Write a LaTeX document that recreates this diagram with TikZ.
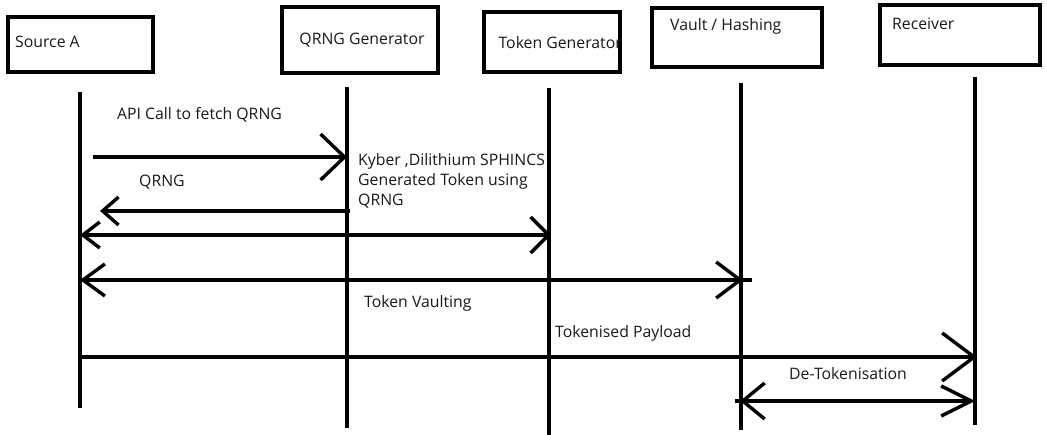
\documentclass[tikz,border=0pt]{standalone}
\usepackage{fontspec}
\setmainfont{Open Sans}
\usetikzlibrary{arrows.meta}
\tikzset{
  actor/.style={draw=black, line width=4pt, fill=white, inner sep=0pt},
  lbl/.style={font=\fontsize{15.8}{20}\selectfont, inner sep=0pt, text=black!90},
  life/.style={draw=black, line width=3.4pt},
  msg/.style={draw=black, line width=3.4pt}
}
\newcommand{\barbtip}[2]{Straight Barb[length=#1pt, width=#2pt, line width=3.4pt]}
\begin{document}
\begin{tikzpicture}[x=1pt, y=-1pt]
\useasboundingbox[fill=white] (0,0) rectangle (1047,435);

% participant boxes
\node[actor, minimum width=145pt, minimum height=55pt] (srcA) at (80.5,44.5) {};
\node[actor, minimum width=156pt, minimum height=66pt] (qrng) at (360,40) {};
\node[actor, minimum width=136pt, minimum height=60pt] (tokgen) at (552,42) {};
\node[actor, minimum width=170pt, minimum height=59pt] (vault) at (737,37.5) {};
\node[actor, minimum width=160pt, minimum height=60pt] (recv) at (960,35) {};

% participant names
\node[lbl, anchor=west] (srcAname) at (15,42) {Source A};
\node[lbl] (qrngname) at (362,40) {QRNG Generator};
\node[lbl, anchor=east] (tokgenname) at (622,43) {Token Generator};
\node[lbl, anchor=west] (vaultname) at (670,26) {Vault / Hashing};
\node[lbl, anchor=west] (recvname) at (892,24) {Receiver};

% lifeline ends
\coordinate (srcAtop) at (80,92);   \coordinate (srcAbot) at (80,408);
\coordinate (qrngtop) at (347,87);  \coordinate (qrngbot) at (347,428);
\coordinate (tokgentop) at (549,88); \coordinate (tokgenbot) at (549,435);
\coordinate (vaulttop) at (741,83); \coordinate (vaultbot) at (741,430);
\coordinate (recvtop) at (975,77);  \coordinate (recvbot) at (975,425);

\draw[life] (srcAtop) -- (srcAbot);
\draw[life] (qrngtop) -- (qrngbot);
\draw[life] (tokgentop) -- (tokgenbot);
\draw[life] (vaulttop) -- (vaultbot);
\draw[life] (recvtop) -- (recvbot);

% message end points
\coordinate (m1s) at (93,157);  \coordinate (m1e) at (347,157);
\coordinate (m2s) at (350,211); \coordinate (m2e) at (100,211);
\coordinate (m3s) at (80,235);  \coordinate (m3e) at (551,235);
\coordinate (m4s) at (80,280);  \coordinate (m4e) at (743,280);
\coordinate (m5s) at (80,357);  \coordinate (m5e) at (977,357);
\coordinate (m6s) at (740,401); \coordinate (m6e) at (975,401);

% messages
\draw[msg, -{\barbtip{24}{46}}] (m1s) -- (m1e);
\draw[msg, -{\barbtip{16}{28}}] (m2s) -- (m2e);
\draw[msg, {\barbtip{17}{26}}-{\barbtip{18}{36}}] (m3s) -- (m3e);
\draw[msg, {\barbtip{22}{32}}-{\barbtip{24}{36}}] (m4s) -- (m4e);
\draw[msg, -{\barbtip{32}{48}}] (m5s) -- (m5e);
\draw[msg, {\barbtip{22}{36}}-{\barbtip{30}{30}}] (m6s) -- (m6e);
\draw[msg] (m4e) -- ++(9,0);
\draw[msg] (m6s) -- ++(-5,0);

% message labels
\node[lbl, anchor=west] (l1) at (117,115) {API Call to fetch QRNG};
\node[lbl, anchor=west] (l2) at (139,182) {QRNG};
\node[lbl, anchor=north west, align=left] (l3) at (358,153)
  {Kyber ,Dilithium SPHINCS\\Generated Token using\\QRNG};
\node[lbl, anchor=west] (l4) at (364,303) {Token Vaulting};
\node[lbl, anchor=west] (l5) at (555,333) {Tokenised Payload};
\node[lbl, anchor=west] (l6) at (789,374) {De-Tokenisation};
\end{tikzpicture}
\end{document}
